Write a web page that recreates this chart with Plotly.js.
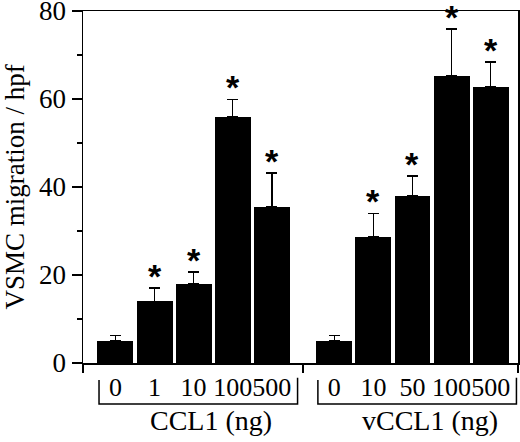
<!DOCTYPE html>
<html>
<head>
<meta charset="utf-8">
<script src="https://cdn.plot.ly/plotly-3.0.1.min.js"></script>
<style>
  html, body { margin: 0; padding: 0; background: #fff; }
  #chart { width: 520px; height: 442px; }
</style>
</head>
<body>
<div id="chart"></div>
<script>
// data (cells per high-power field)
const groupNames = ['CCL1 (ng)', 'vCCL1 (ng)'];
const ccl1Doses = ['0', '1', '10', '100', '500'];
const ccl1Means = [5.0, 14.0, 18.0, 56.0, 35.5];
const ccl1Errors = [1.2, 3.0, 2.7, 3.9, 7.7];
const ccl1Signif = [false, true, true, true, true];
const vccl1Doses = ['0', '10', '50', '100', '500'];
const vccl1Means = [5.0, 28.7, 38.0, 65.3, 62.8];
const vccl1Errors = [1.2, 5.3, 4.5, 10.6, 5.6];
const vccl1Signif = [false, true, true, true, true];

const GAP = 1.6;       // distance between the two groups, in bar slots
const serif = '"Liberation Serif", "Times New Roman", serif';

const groups = [
    {name: groupNames[0], doses: ccl1Doses, means: ccl1Means, errs: ccl1Errors, sig: ccl1Signif},
    {name: groupNames[1], doses: vccl1Doses, means: vccl1Means, errs: vccl1Errors, sig: vccl1Signif}
];

let offset = 0;
groups.forEach(g => {
    g.pos = g.doses.map((d, i) => offset + i);
    offset += g.doses.length - 1 + GAP;
});

const allPos = groups.flatMap(g => g.pos);
const allText = groups.flatMap(g => g.doses);
const xMin = allPos[0] - 0.83;
const xMax = allPos[allPos.length - 1] + 0.7;
const mid = (groups[0].pos[groups[0].pos.length - 1] + groups[1].pos[0]) / 2;

const data = [];
const annotations = [];
groups.forEach(g => {
    data.push({
        type: 'bar',
        x: g.pos,
        y: g.means,
        width: 0.92,
        marker: {color: '#000', line: {width: 0}},
        error_y: {
            type: 'data', symmetric: false,
            array: g.errs, arrayminus: g.errs.map(() => 0),
            color: '#000', thickness: 1.5, width: 5.5
        },
        hoverinfo: 'skip',
        showlegend: false
    });
    // significance stars just above the error bars
    g.pos.forEach((p, i) => {
        if (!g.sig[i]) return;
        annotations.push({
            x: p, y: g.means[i] + g.errs[i], xref: 'x', yref: 'y',
            text: '*', showarrow: false, yanchor: 'middle', yshift: 12,
            font: {family: '"Liberation Sans", Arial, sans-serif', size: 34, weight: 'bold', color: '#000'}
        });
    });
});

// the bottom-axis ticks that separate the groups
data.push({
    type: 'scatter', x: [xMin], y: [0], xaxis: 'x2', mode: 'markers',
    marker: {opacity: 0}, hoverinfo: 'skip', showlegend: false
});

const shapes = [];
groups.forEach(g => {
    const left = g.pos[0] - 0.42;
    const right = g.pos[g.pos.length - 1] + 0.66;
    shapes.push({
        type: 'path', xref: 'x', yref: 'paper',
        path: `M ${left},-0.048 L ${left},-0.1165 L ${right},-0.1165 L ${right},-0.042`,
        line: {color: '#000', width: 1.5}
    });
    const centre = (g.pos[0] + g.pos[g.pos.length - 1]) / 2 + 0.45;
    annotations.push({
        x: centre, y: -0.162, xref: 'x', yref: 'paper',
        text: g.name, showarrow: false, yanchor: 'middle',
        font: {family: serif, size: 28, color: '#000'}
    });
});

const layout = {
    width: 520,
    height: 442,
    margin: {l: 83, r: 2, t: 11, b: 79},
    paper_bgcolor: '#fff',
    plot_bgcolor: '#fff',
    font: {family: serif, color: '#000'},
    bargap: 0,
    xaxis: {
        range: [xMin, xMax],
        tickvals: allPos,
        ticktext: allText,
        ticks: '',
        tickangle: 0,
        tickfont: {size: 26},
        showgrid: false,
        zeroline: false,
        showline: true,
        linecolor: '#000',
        linewidth: 1.5,
        mirror: true,
        fixedrange: true
    },
    xaxis2: {
        overlaying: 'x',
        anchor: 'y',
        side: 'bottom',
        range: [xMin, xMax],
        tickvals: [xMin, mid, xMax],
        ticks: 'outside',
        ticklen: 9,
        tickwidth: 1.5,
        tickcolor: '#000',
        showticklabels: false,
        showgrid: false,
        zeroline: false,
        showline: false
    },
    yaxis: {
        range: [0, 80.01],
        tickvals: [0, 20, 40, 60, 80],
        ticks: 'outside',
        ticklen: 10,
        tickwidth: 1.5,
        tickcolor: '#000',
        tickfont: {size: 27},
        ticklabeloverflow: 'allow',
        minor: {tickvals: [10, 30, 50, 70], ticks: 'outside', ticklen: 5, tickwidth: 1.5, tickcolor: '#000'},
        showgrid: false,
        zeroline: false,
        showline: true,
        linecolor: '#000',
        linewidth: 1.5,
        mirror: true,
        title: {text: 'VSMC migration / hpf', font: {size: 27}, standoff: 6},
        fixedrange: true
    },
    shapes: shapes,
    annotations: annotations
};

Plotly.newPlot('chart', data, layout, {displayModeBar: false, staticPlot: true});
</script>
</body>
</html>
